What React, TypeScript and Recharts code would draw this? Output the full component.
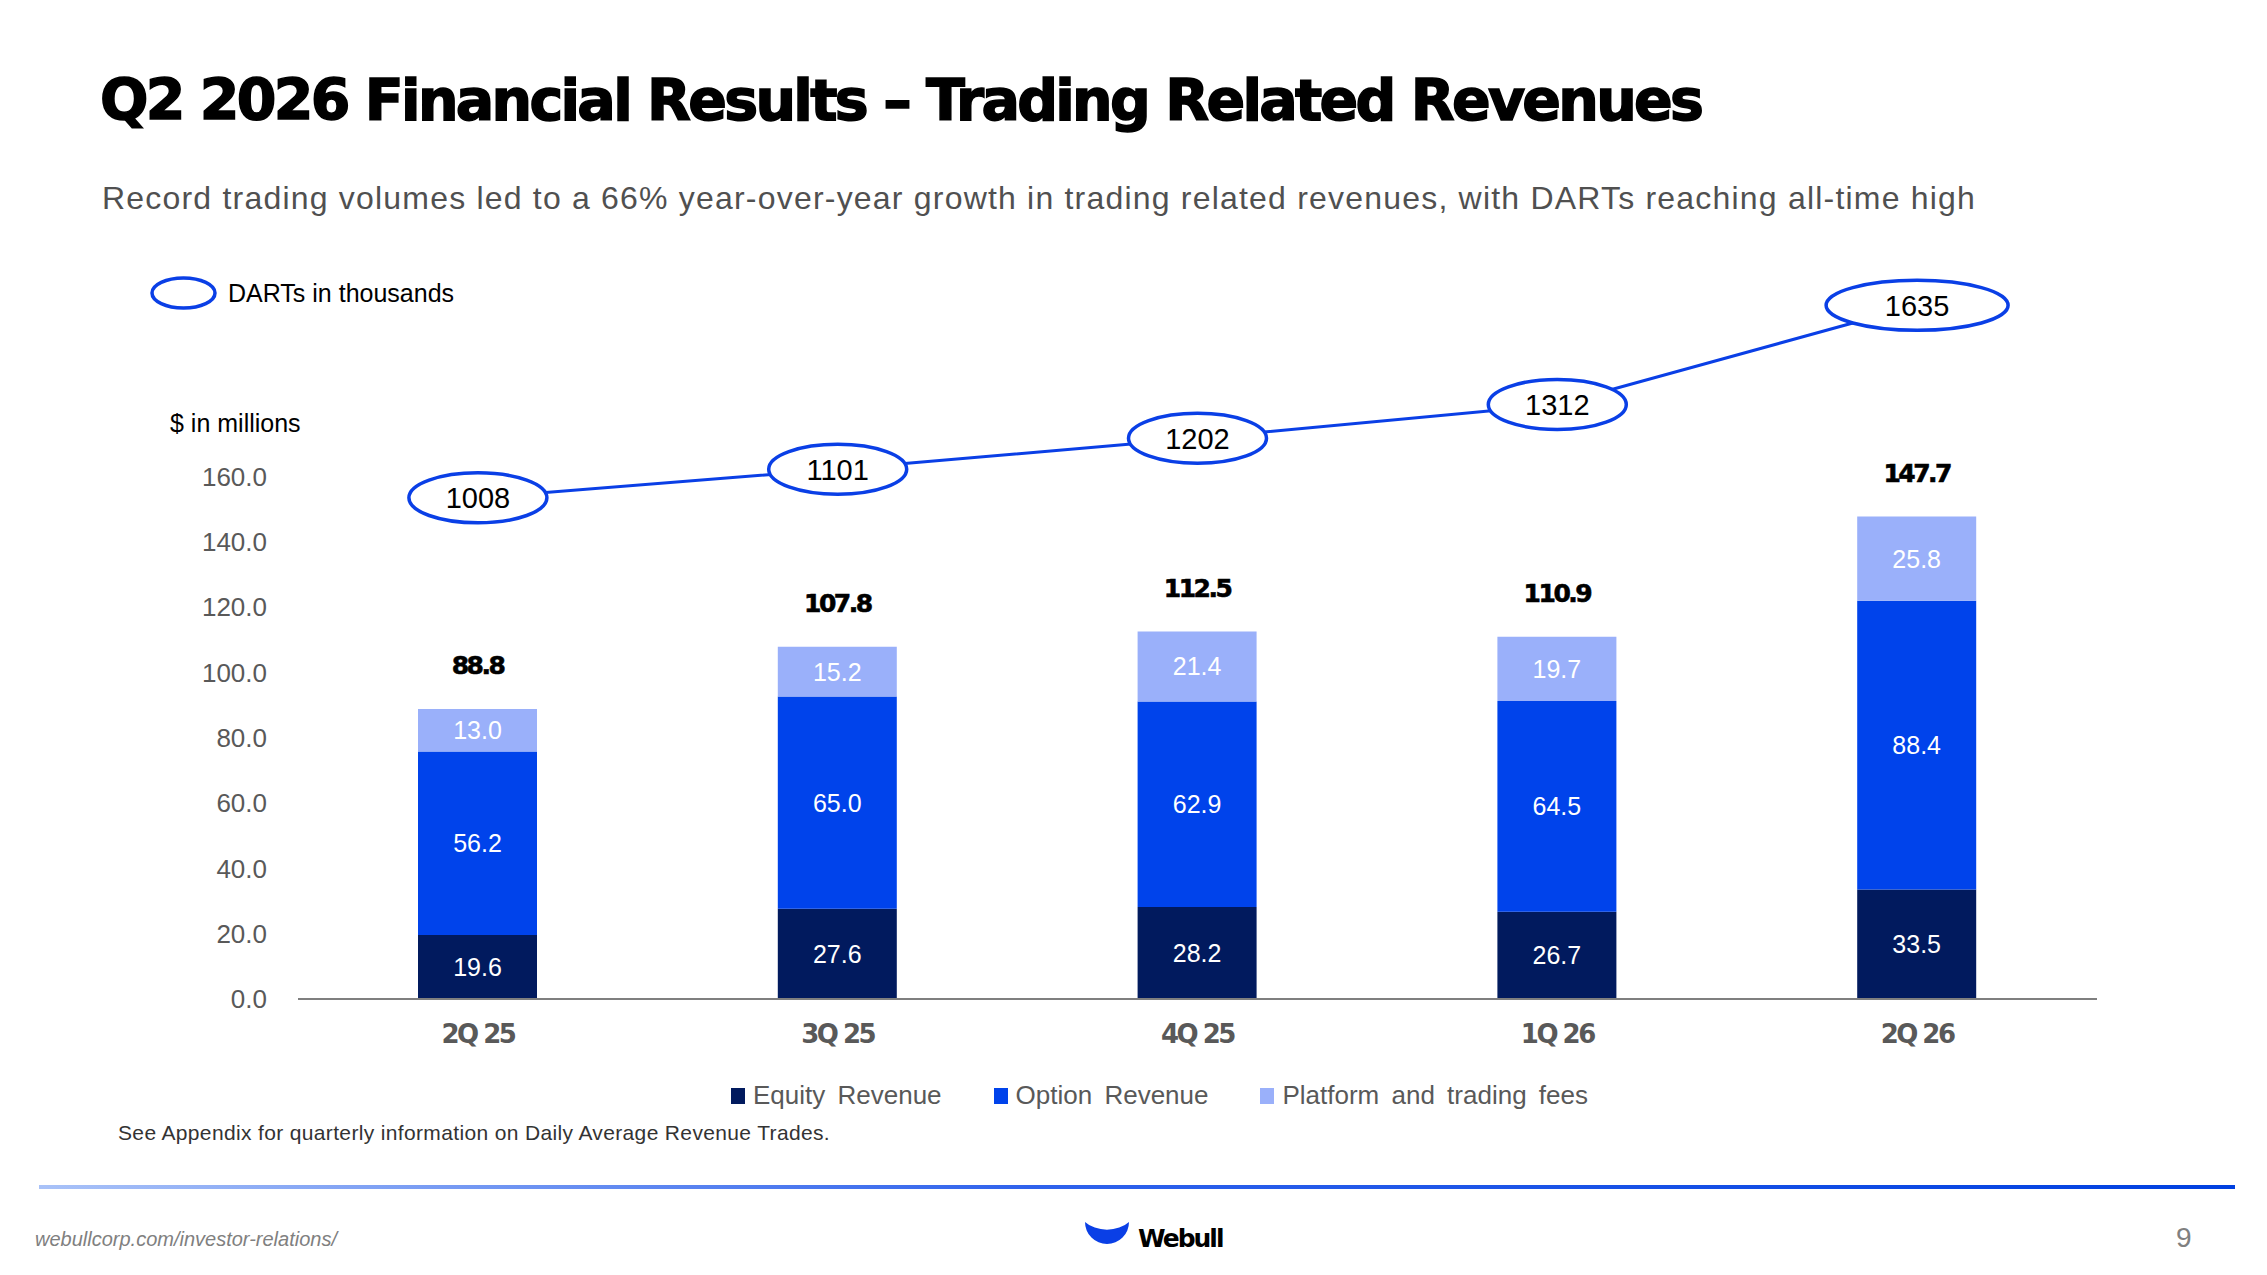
import {
  ComposedChart, Bar, Line, XAxis, YAxis, LabelList, Legend,
} from "recharts";

const quarters = ["2Q 25", "3Q 25", "4Q 25", "1Q 26", "2Q 26"];
const equityRevenue = [19.6, 27.6, 28.2, 26.7, 33.5];
const optionRevenue = [56.2, 65.0, 62.9, 64.5, 88.4];
const platformFees = [13.0, 15.2, 21.4, 19.7, 25.8];
const totalRevenue = [88.8, 107.8, 112.5, 110.9, 147.7];
const darts = [1008, 1101, 1202, 1312, 1635];
const revenueTicks = [0, 20, 40, 60, 80, 100, 120, 140, 160];

const data = quarters.map((quarter, i) => ({
  quarter,
  equity: equityRevenue[i],
  option: optionRevenue[i],
  platform: platformFees[i],
  total: totalRevenue[i],
  darts: darts[i],
}));

const FONT = "'Liberation Sans', Arial, sans-serif";
const HEAVY = "'DejaVu Sans', 'Liberation Sans', sans-serif";
const C_EQUITY = "#011A5E";
const C_OPTION = "#0043EB";
const C_PLATFORM = "#9AB0FA";
const C_LINE = "#0A3FE6";
const GREY = "#595959";

const DartDot = (props: any) => {
  const { cx, cy, index, payload } = props;
  if (cx == null || cy == null) return <g key={`d${index}`} />;
  const rx = index === darts.length - 1 ? 91 : 69;
  return (
    <g key={`d${index}`}>
      <ellipse cx={cx} cy={cy} rx={rx} ry={25} fill="#fff" stroke={C_LINE} strokeWidth={3.5} />
      <text x={cx} y={cy} dy="0.36em" textAnchor="middle" fontSize={29}
        fontFamily={FONT} fill="#000">{payload.darts}</text>
    </g>
  );
};

const TotalLabel = (props: any) => {
  const { x, y, width, value } = props;
  return (
    <text x={x + width / 2} y={y - 44} dy="0.36em" textAnchor="middle"
      fontSize={25} fontWeight={700} fontFamily={HEAVY} fill="#000"
      stroke="#000" strokeWidth={0.6} letterSpacing={-2.5}>
      {Number(value).toFixed(1)}
    </text>
  );
};

const LegendContent = ({ payload }: any) => (
  <div style={{ display: "flex", alignItems: "center", fontFamily: FONT, fontSize: 26, color: GREY, wordSpacing: 5 }}>
    {(payload || []).filter((p: any) => p.type !== "none").map((p: any, i: number) => (
      <div key={i} style={{ display: "flex", alignItems: "center", marginRight: 52 }}>
        <span style={{ display: "inline-block", width: 14, height: 16, background: p.color, marginRight: 8 }} />
        <span>{p.value}</span>
      </div>
    ))}
  </div>
);

const segLabel = { fill: "#fff", fontSize: 25, fontFamily: FONT };

export default function App() {
  return (
    <div style={{ position: "absolute", left: 0, top: 0, width: 2267, height: 1275, background: "#fff", overflow: "hidden", fontFamily: FONT }}>
      <div style={{ position: "absolute", left: 100, top: 72, fontSize: 57, fontWeight: 700, lineHeight: 1, color: "#000", fontFamily: HEAVY, letterSpacing: -2.7, WebkitTextStroke: "1.5px #000", whiteSpace: "nowrap" }}>
        Q2 2026 Financial Results – Trading Related Revenues
      </div>
      <div style={{ position: "absolute", left: 102, top: 182, fontSize: 32, lineHeight: 1, color: "#505050", letterSpacing: 1.2, whiteSpace: "nowrap" }}>
        Record trading volumes led to a 66% year-over-year growth in trading related revenues, with DARTs reaching all-time high
      </div>

      <ComposedChart width={2267} height={1275} data={data}
        margin={{ top: 215, right: 170, bottom: 246, left: 0 }}>
        <XAxis dataKey="quarter" height={30} axisLine={{ stroke: "#7F7F7F", strokeWidth: 2 }} tickLine={false}
          tickMargin={20}
          tick={{ fill: GREY, fontSize: 26, fontWeight: 700, fontFamily: HEAVY, letterSpacing: -2.5 }} />
        <YAxis yAxisId="rev" domain={[0, 240]} ticks={revenueTicks} width={298}
          axisLine={false} tickLine={false} tickMargin={25}
          tickFormatter={(v: number) => v.toFixed(1)}
          tick={{ fill: GREY, fontSize: 26, fontFamily: FONT }} />
        <YAxis yAxisId="darts" orientation="right" hide domain={[-624, 1929]} />
        <Legend layout="horizontal" verticalAlign="middle" align="center"
          wrapperStyle={{ left: 731, top: 1080, width: 1100 }} content={<LegendContent />} />

        <Bar yAxisId="rev" dataKey="equity" name="Equity Revenue" stackId="rev" fill={C_EQUITY}
          barSize={119} isAnimationActive={false}>
          <LabelList dataKey="equity" position="center" formatter={(v: any) => Number(v).toFixed(1)} style={segLabel} />
        </Bar>
        <Bar yAxisId="rev" dataKey="option" name="Option Revenue" stackId="rev" fill={C_OPTION}
          barSize={119} isAnimationActive={false}>
          <LabelList dataKey="option" position="center" formatter={(v: any) => Number(v).toFixed(1)} style={segLabel} />
        </Bar>
        <Bar yAxisId="rev" dataKey="platform" name="Platform and trading fees" stackId="rev" fill={C_PLATFORM}
          barSize={119} isAnimationActive={false}>
          <LabelList dataKey="platform" position="center" formatter={(v: any) => Number(v).toFixed(1)} style={segLabel} />
          <LabelList dataKey="total" content={<TotalLabel />} />
        </Bar>

        <Line yAxisId="darts" dataKey="darts" stroke={C_LINE} strokeWidth={3} legendType="none"
          dot={DartDot} activeDot={false} isAnimationActive={false} />
      </ComposedChart>

      {/* DARTs key and unit note */}
      <svg style={{ position: "absolute", left: 148, top: 274 }} width={72} height={38}>
        <ellipse cx={35.5} cy={19} rx={31.5} ry={15} fill="#fff" stroke={C_LINE} strokeWidth={3.5} />
      </svg>
      <div style={{ position: "absolute", left: 228, top: 281, fontSize: 25, lineHeight: 1, color: "#000", whiteSpace: "nowrap" }}>DARTs in thousands</div>
      <div style={{ position: "absolute", left: 170, top: 411, fontSize: 25, lineHeight: 1, color: "#000", whiteSpace: "nowrap" }}>$ in millions</div>

      <div style={{ position: "absolute", left: 118, top: 1122, fontSize: 21, lineHeight: 1, color: "#333", letterSpacing: 0.35, whiteSpace: "nowrap" }}>
        See Appendix for quarterly information on Daily Average Revenue Trades.
      </div>

      <div style={{ position: "absolute", left: 39, top: 1185, width: 2196, height: 4, background: "linear-gradient(to right, #A9C2F8 0%, #2F62EC 45%, #0040E0 100%)" }} />

      <div style={{ position: "absolute", left: 35, top: 1229, fontSize: 20, lineHeight: 1, color: "#808080", fontStyle: "italic", whiteSpace: "nowrap" }}>
        webullcorp.com/investor-relations/
      </div>
      <svg style={{ position: "absolute", left: 1083, top: 1220 }} width={48} height={32}>
        <path d="M2,2 A22,22 0 0 0 46,2 A28,20 0 0 1 2,2 Z" fill="#0A3FE6" />
      </svg>
      <div style={{ position: "absolute", left: 1138, top: 1226, fontSize: 25, fontWeight: 700, lineHeight: 1, color: "#000", fontFamily: HEAVY, letterSpacing: -2, whiteSpace: "nowrap" }}>Webull</div>
      <div style={{ position: "absolute", left: 2176, top: 1224, fontSize: 28, lineHeight: 1, color: "#808080" }}>9</div>
    </div>
  );
}
